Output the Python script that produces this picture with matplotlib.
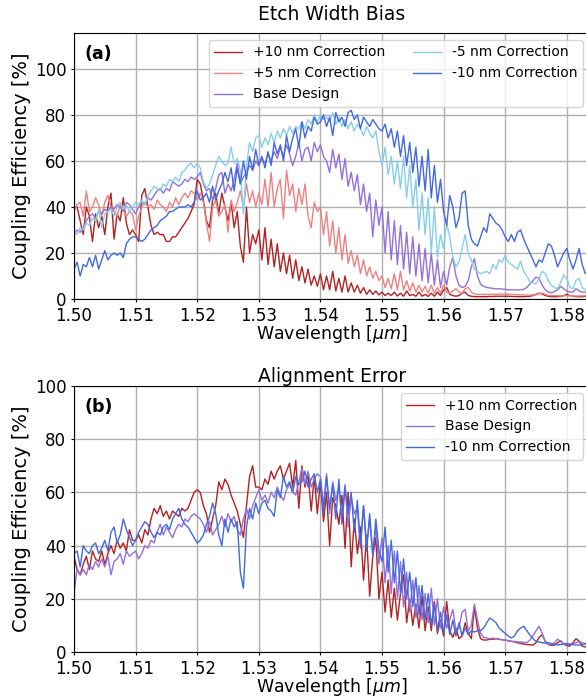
import numpy as np
import matplotlib
matplotlib.use("Agg")
import matplotlib.pyplot as plt
from matplotlib.ticker import FormatStrFormatter

# wavelength grid (um), 0.5 nm sampling
wavelength = np.round(1.5 + 0.0005 * np.arange(168), 4)

# ---------------- panel (a): Etch Width Bias ----------------
a_p10 = [40, 40, 34, 28, 40, 36, 25, 37, 31, 36, 28, 40, 46, 26, 37, 34, 44, 33, 28, 30,
         28, 25, 45, 48, 40, 32, 28, 29, 28, 28, 25, 25, 27, 27, 29, 31, 33, 35, 38, 41,
         52, 50, 43, 34, 31, 43, 46, 37, 46, 40, 34, 42, 31, 38, 23, 16, 40, 20, 28, 24,
         30, 17, 31, 15, 26, 14, 24, 12, 20, 11, 19, 9, 17, 8, 14, 7, 13, 6, 10, 5.5,
         11, 4, 10, 4, 12, 3.5, 9, 3, 10, 3, 7, 3, 6, 2.5, 5, 2, 4, 2, 3.5, 1.8,
         3, 1.5, 2.5, 1.5, 3, 1.3, 2.5, 1.2, 3.5, 1.5, 2, 1.2, 3, 1.2, 2, 1.1, 2.5, 1.2, 3, 1.5,
         4, 5, 2, 1.5, 1.2, 1.5, 2.5, 3, 1.5, 1.2, 1.0, 1.0, 1.0, 1.0, 1.0, 1.1, 1.1, 1.2, 1.2, 1.2,
         1.2, 1.2, 1.1, 1.1, 1.0, 1.0, 1.0, 1.1, 1.2, 1.5, 2.0, 2.5, 2.2, 1.5, 1.2, 1.0, 1.0, 1.0, 1.2, 1.5,
         2.0, 1.5, 1.2, 1.0, 1.0, 1.0, 1.2, 1.5]

a_p5 = [38, 41, 42, 36, 47, 38, 40, 44, 41, 36, 42, 45, 40, 38, 36, 41, 39, 36, 38, 37,
        30, 36, 40, 42, 40, 41, 39, 43, 41, 40, 38, 42, 40, 44, 41, 44, 46, 44, 47, 46,
        43, 46, 42, 33, 25, 40, 43, 36, 38, 41, 29, 43, 38, 42, 47, 40, 50, 42, 47, 40,
        46, 41, 52, 40, 55, 40, 48, 52, 35, 56, 45, 50, 38, 48, 41, 50, 36, 31, 42, 38,
        40, 28, 38, 23, 34, 20, 31, 17, 28, 15.5, 21, 14, 19, 11, 17, 10, 14, 9, 12, 8,
        10, 5, 9, 4.5, 11, 4, 12, 4, 8, 3.5, 7, 3, 6, 3, 5.5, 2.5, 6, 2.5, 5, 2.5,
        6, 3, 2.5, 3.5, 4.5, 3, 2.5, 4.5, 5, 3, 2.2, 2, 2, 2, 2, 2, 2, 2.1, 2.1, 2.1,
        2.1, 2.1, 2.0, 2.0, 1.9, 1.8, 1.8, 1.7, 1.7, 1.7, 1.8, 2.3, 2.6, 2.0, 1.6, 1.5, 1.5, 1.4, 1.4, 1.4,
        1.4, 1.4, 1.3, 1.3, 1.3, 1.4, 1.5, 1.5]

a_base = [28, 30, 29, 31, 34, 36, 37, 35, 38, 37, 39, 38, 40, 39, 41, 40, 38, 42, 41, 39,
          37, 40, 42, 41, 44, 43, 45, 47, 48, 46, 48, 47, 51, 50, 49, 50, 52, 51, 53, 52,
          53, 55, 50, 47, 48, 43, 48, 54, 55, 46, 50, 47, 52, 59, 50, 53, 55, 58, 56, 60,
          58, 61, 59, 63, 60, 64, 61, 66, 62, 67, 63, 58, 62, 68, 60, 65, 66, 60, 68, 64,
          67, 62, 60, 55, 65, 57, 63, 52, 61, 49, 55, 47, 54, 41, 50, 38, 46, 27, 43, 32,
          40, 20, 38, 17, 34, 15, 32, 13, 29, 11, 27, 10, 24, 8, 22, 7, 20, 6, 17, 5,
          12, 6, 14, 18, 10, 6, 5, 5.5, 8, 14, 17.5, 10, 6.5, 5.5, 5, 4.8, 4.6, 4.4, 4.5, 4.3,
          4.2, 4.0, 4.0, 4.0, 3.9, 4.0, 4.2, 5, 6.5, 8, 9.5, 9, 6, 4, 3, 2.8, 3.2, 4, 5.5, 4.5,
          3.5, 3, 3, 4.5, 3.5, 3, 3, 3]

a_m5 = [29, 28, 31, 30, 33, 32, 35, 34, 39, 31, 37, 38, 39, 36, 40, 42, 39, 41, 38, 40,
        42, 41, 43, 41, 45, 47, 49, 48, 47, 50, 49, 52, 51, 53, 51, 55, 56, 58, 59, 57,
        59, 57, 51, 48, 50, 54, 58, 62, 60, 58, 59, 66, 59, 61, 56, 37, 58, 68, 64, 70,
        71, 66, 70, 67, 72, 68, 73, 70, 74, 71, 75, 72, 75, 74, 77, 74, 78, 76, 80, 77,
        80, 78, 79, 77, 81, 76, 79, 75, 78, 74, 77, 73, 76, 74, 71, 75, 72, 70, 73, 64,
        58, 66, 54, 62, 50, 60, 48, 62, 44, 58, 40, 52, 30, 46, 28, 44, 20, 40, 18, 28,
        22, 33, 27, 18, 14, 16, 22, 28, 20, 17, 13, 12, 11, 11.5, 12, 11, 15, 13, 17, 16,
        19, 16, 15, 14, 13, 16.5, 12, 10, 7.5, 7, 6.5, 9, 12, 11, 8, 6, 5, 4.5, 7, 10.5,
        9, 5, 4.5, 8, 9, 5, 4, 4]

a_m10 = [13, 16, 10, 15, 14, 18, 14, 19, 13, 17, 21, 17, 19, 20, 19, 20, 18, 24, 26, 27,
         27, 26, 25, 26, 28, 30, 31, 32, 34, 35, 36, 38, 38, 39, 40, 40, 40, 41, 40, 42,
         47, 43, 44, 46, 42, 49, 43, 47, 50, 55, 51, 57, 47, 57, 50, 60, 52, 62, 56, 65,
         58, 62, 57, 64, 58, 68, 63, 67, 60, 71, 64, 70, 74, 66, 77, 70, 75, 73, 79, 76,
         77, 80, 75, 79, 71, 81, 77, 79, 75, 81, 82, 78, 80, 74, 79, 77, 75, 78, 76, 74,
         73, 76, 70, 74, 66, 73, 62, 71, 58, 68, 55, 66, 49, 62, 47, 65, 44, 58, 42, 52,
         38, 32, 45, 40, 31, 35, 46, 47, 32, 26, 24, 23, 27, 31, 29, 37, 35, 33, 32, 30,
         27, 25, 28, 25, 29, 30, 26, 23, 20, 17, 14, 17, 16, 20, 24, 23, 19, 14, 17, 20,
         22, 17, 13, 17, 22, 15, 11, 12]

# ---------------- panel (b): Alignment Error ----------------
b_p10 = [36, 31, 29, 33, 36, 31, 38, 35, 34, 38, 33, 37, 40, 37, 42, 39, 41, 38, 46, 42,
         42, 44, 41, 46, 44, 50, 54, 52, 55, 51, 53, 50, 53, 52, 51, 54, 53, 54, 57, 60,
         61, 60, 55, 52, 45, 50, 55, 64, 61, 65, 63, 59, 56, 53, 48, 43, 55, 66, 70, 62,
         62, 61, 65, 63, 68, 65, 68, 70, 65, 68, 71, 62, 72, 54, 70, 62, 67, 53, 66, 52,
         64, 49, 60, 40, 58, 55, 48, 59, 39, 60, 32, 50, 37, 47, 27, 44, 21, 36, 43, 20,
         30, 15, 27, 13, 24, 12, 22, 29, 11, 20, 10, 18, 9, 21, 8, 17, 8, 19, 7, 12,
         6, 19, 8, 5.5, 9, 5, 6, 11, 7, 5, 17, 9, 5, 4.5, 4.5, 4.8, 4.8, 5, 4.8, 4.6,
         4.5, 4.2, 4.0, 3.8, 3.5, 3.2, 3.0, 2.8, 2.7, 2.6, 3.5, 5.5, 6.5, 4, 2.8, 2.5, 2.6, 3.5, 4.2, 3,
         2.4, 2.2, 3.5, 5, 4, 2.2, 1.9, 1.8]

b_base = [22, 31, 29, 31, 29, 33, 31, 34, 32, 35, 32, 36, 29, 34, 35, 37, 33, 38, 36, 37,
          38, 35, 37, 40, 39, 42, 41, 45, 48, 44, 47, 45, 43, 46, 48, 47, 50, 49, 51, 52,
          51, 50, 48, 45, 49, 44, 46, 48, 51, 47, 52, 49, 51, 46, 44, 50, 54, 50, 55, 58,
          61, 57, 59, 56, 60, 58, 62, 59, 57, 61, 63, 60, 59, 64, 69, 63, 68, 62, 65, 67,
          66, 55, 67, 52, 64, 57, 62, 50, 63, 47, 58, 52, 54, 39, 55, 40, 50, 37, 47, 33,
          43, 26, 40, 22, 38, 20, 34, 17, 30, 15, 27, 13, 25, 12, 22, 11, 24, 10, 20, 9,
          17, 9, 12, 16, 8, 9, 15, 16, 8, 10, 18, 12, 7, 5.5, 5.3, 5, 5.2, 5, 4.8, 4.6,
          4.5, 4.2, 4.0, 4.0, 3.8, 3.8, 3.6, 3.5, 4.5, 6, 8, 9.7, 7, 4, 3, 2.8, 3.5, 4.8, 4, 3,
          2.8, 2.8, 3.2, 3.5, 4, 3.5, 3, 2.8]

b_m10 = [37, 38, 32, 40, 38, 37, 40, 41, 37, 39, 42, 38, 45, 47, 41, 44, 50, 46, 43, 40,
         42, 45, 47, 49, 48, 45, 43, 45, 44, 47, 48, 46, 50, 52, 54, 50, 48, 47, 45, 43,
         41, 42, 44, 48, 51, 56, 52, 44, 40, 50, 45, 50, 47, 49, 30, 24, 47, 54, 50, 56,
         52, 56, 57, 54, 53, 51, 61, 58, 66, 62, 64, 60, 66, 63, 64, 68, 62, 65, 67, 60,
         65, 52, 66, 54, 63, 50, 65, 48, 62, 52, 60, 45, 57, 40, 55, 38, 52, 36, 50, 38,
         34, 47, 30, 42, 26, 38, 22, 35, 20, 30, 17, 28, 14, 25, 12, 22, 10, 18, 8, 15,
         7, 14, 6.5, 12, 6, 11, 6, 9, 6.5, 8, 7.5, 8, 8, 9, 11, 12.8, 12, 11, 9, 8,
         7, 6, 5.3, 6, 8, 9, 9.7, 8, 6.5, 5, 4, 3.8, 3.5, 3.3, 3.5, 3.2, 2.8, 2.7, 2.8, 3.0,
         3.2, 3, 2.8, 2.6, 2.6, 2.8, 3.2, 4]

a_labels = ["+10 nm Correction", "+5 nm Correction", "Base Design",
            "-5 nm Correction", "-10 nm Correction"]
b_labels = ["+10 nm Correction", "Base Design", "-10 nm Correction"]
xticks = [1.50, 1.51, 1.52, 1.53, 1.54, 1.55, 1.56, 1.57, 1.58]
yticks = [0, 20, 40, 60, 80, 100]

c_p10 = "#b22222"
c_p5 = "#f08080"
c_base = "#9370db"
c_m5 = "#87ceeb"
c_m10 = "#4169e1"

W, H = 586, 698
fig = plt.figure(figsize=(W / 100, H / 100), dpi=100)

def px_axes(left, top, right, bottom):
    return fig.add_axes([left / W, 1 - bottom / H, (right - left) / W, (bottom - top) / H])

x_right = 1.5 + (590 - 74) / 6160.0

ax1 = px_axes(74, 33, 590, 299)
ax2 = px_axes(74, 386, 590, 652)

series_a = [a_p10, a_p5, a_base, a_m5, a_m10]
colors_a = [c_p10, c_p5, c_base, c_m5, c_m10]
for ys, lab, c in zip(series_a, a_labels, colors_a):
    ax1.plot(wavelength, ys, color=c, lw=1.0, label=lab)

series_b = [b_p10, b_base, b_m10]
colors_b = [c_p10, c_base, c_m10]
for ys, lab, c in zip(series_b, b_labels, colors_b):
    ax2.plot(wavelength, ys, color=c, lw=1.0, label=lab)

for ax, title, tag, ytop, tpad in [(ax1, "Etch Width Bias", "(a)", 115.6, 9),
                                   (ax2, "Alignment Error", "(b)", 100, 3)]:
    ax.set_xlim(1.5, x_right)
    ax.set_ylim(0, ytop)
    ax.set_xticks(xticks)
    ax.set_yticks(yticks)
    ax.xaxis.set_major_formatter(FormatStrFormatter("%.2f"))
    ax.tick_params(labelsize=12, length=2.5)
    ax.tick_params(axis="x", pad=3)
    ax.tick_params(axis="y", pad=3)
    ax.grid(True, color="#b0b0b0", lw=1.0)
    ax.set_axisbelow(True)
    ax.set_xlabel(r"Wavelength [$\mu m$]", fontsize=12.5, labelpad=-1)
    ax.set_ylabel("Coupling Efficiency [%]", fontsize=14, labelpad=3)
    ax.set_title(title, fontsize=13.5, pad=tpad)
    ax.text(0.02, 0.92, tag, transform=ax.transAxes, fontsize=12.5,
            fontweight="bold", va="center", ha="left")

ax1.legend(loc="upper right", ncol=2, fontsize=10)
ax2.legend(loc="upper right", ncol=1, fontsize=10)

fig.savefig("out.png", dpi=100)
